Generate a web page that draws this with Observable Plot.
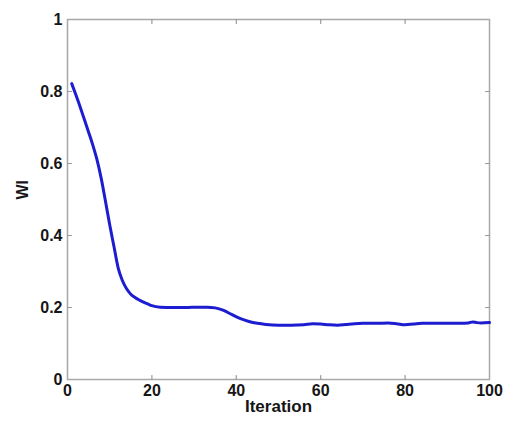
<!DOCTYPE html>
<html>
<head>
<meta charset="utf-8">
<script src="https://cdn.jsdelivr.net/npm/d3@7"></script>
<script src="https://cdn.jsdelivr.net/npm/@observablehq/plot@0.6"></script>
<style>
  html, body { margin: 0; padding: 0; background: #fff; }
</style>
</head>
<body>
<div id="chart"></div>
<script>
const iterations = [1,2,3,4,5,6,7,8,9,10,11,12,13,14,15,16,17,18,19,20,22,25,28,31,33,35,37,39,41,43,45,47,50,53,56,58,60,62,64,66,68,70,73,76,78,80,82,84,87,90,93,95,96,97,98,100];
const wi = [0.822,0.79,0.757,0.722,0.687,0.651,0.61,0.558,0.495,0.43,0.37,0.31,0.275,0.252,0.237,0.228,0.221,0.215,0.21,0.205,0.201,0.200,0.200,0.201,0.201,0.199,0.192,0.180,0.169,0.161,0.156,0.153,0.151,0.151,0.152,0.155,0.154,0.152,0.151,0.153,0.155,0.156,0.156,0.157,0.155,0.152,0.154,0.156,0.156,0.156,0.156,0.157,0.160,0.158,0.157,0.158];
const xTicks = [0,20,40,60,80,100];
const yTicks = [0,0.2,0.4,0.6,0.8,1];
const xLabel = "Iteration";
const yLabel = "WI";

const data = iterations.map((it, i) => ({it, v: wi[i]}));
const tickShape = {draw(context, l) { context.moveTo(0, 0); context.lineTo(0, -l); }};
const tickStyle = {length: 4, anchor: "start", shape: tickShape, stroke: "#9a9a9a", strokeWidth: 1.2};

const chart = Plot.plot({
  width: 507,
  height: 422,
  marginLeft: 67,
  marginRight: 18,
  marginTop: 19,
  marginBottom: 43,
  style: {fontFamily: "'Liberation Sans', Arial, sans-serif", fontSize: "16px", fontWeight: "bold", color: "#161616", background: "#fff"},
  x: {domain: [0, 100]},
  y: {domain: [0, 1]},
  marks: [
    Plot.frame({stroke: "#a8a8a8", strokeWidth: 1.5}),
    Plot.vector(xTicks.filter(d => d > 0 && d < 100), {x: d => d, y: 0, rotate: 0, ...tickStyle}),
    Plot.vector(xTicks.filter(d => d > 0 && d < 100), {x: d => d, y: 1, rotate: 180, ...tickStyle}),
    Plot.vector(yTicks.filter(d => d > 0 && d < 1), {x: 0, y: d => d, rotate: 90, ...tickStyle}),
    Plot.vector(yTicks.filter(d => d > 0 && d < 1), {x: 100, y: d => d, rotate: 270, ...tickStyle}),
    Plot.axisX({ticks: xTicks, tickSize: 0, tickPadding: 5, label: null, tickFormat: d => String(d)}),
    Plot.axisY({ticks: yTicks, tickSize: 0, tickPadding: 5, label: null, tickFormat: d => String(d)}),
    Plot.line(data, {x: "it", y: "v", stroke: "#1c1cd0", strokeWidth: 3, curve: "monotone-x"}),
    Plot.text([xLabel], {text: d => d, frameAnchor: "bottom", dy: 32, fontSize: 17, fontWeight: "bold", fill: "#161616"}),
    Plot.text([yLabel], {text: d => d, frameAnchor: "left", dx: -45, rotate: -90, fontSize: 16, fontWeight: "bold", fill: "#161616"})
  ]
});
document.getElementById("chart").appendChild(chart);
</script>
</body>
</html>
